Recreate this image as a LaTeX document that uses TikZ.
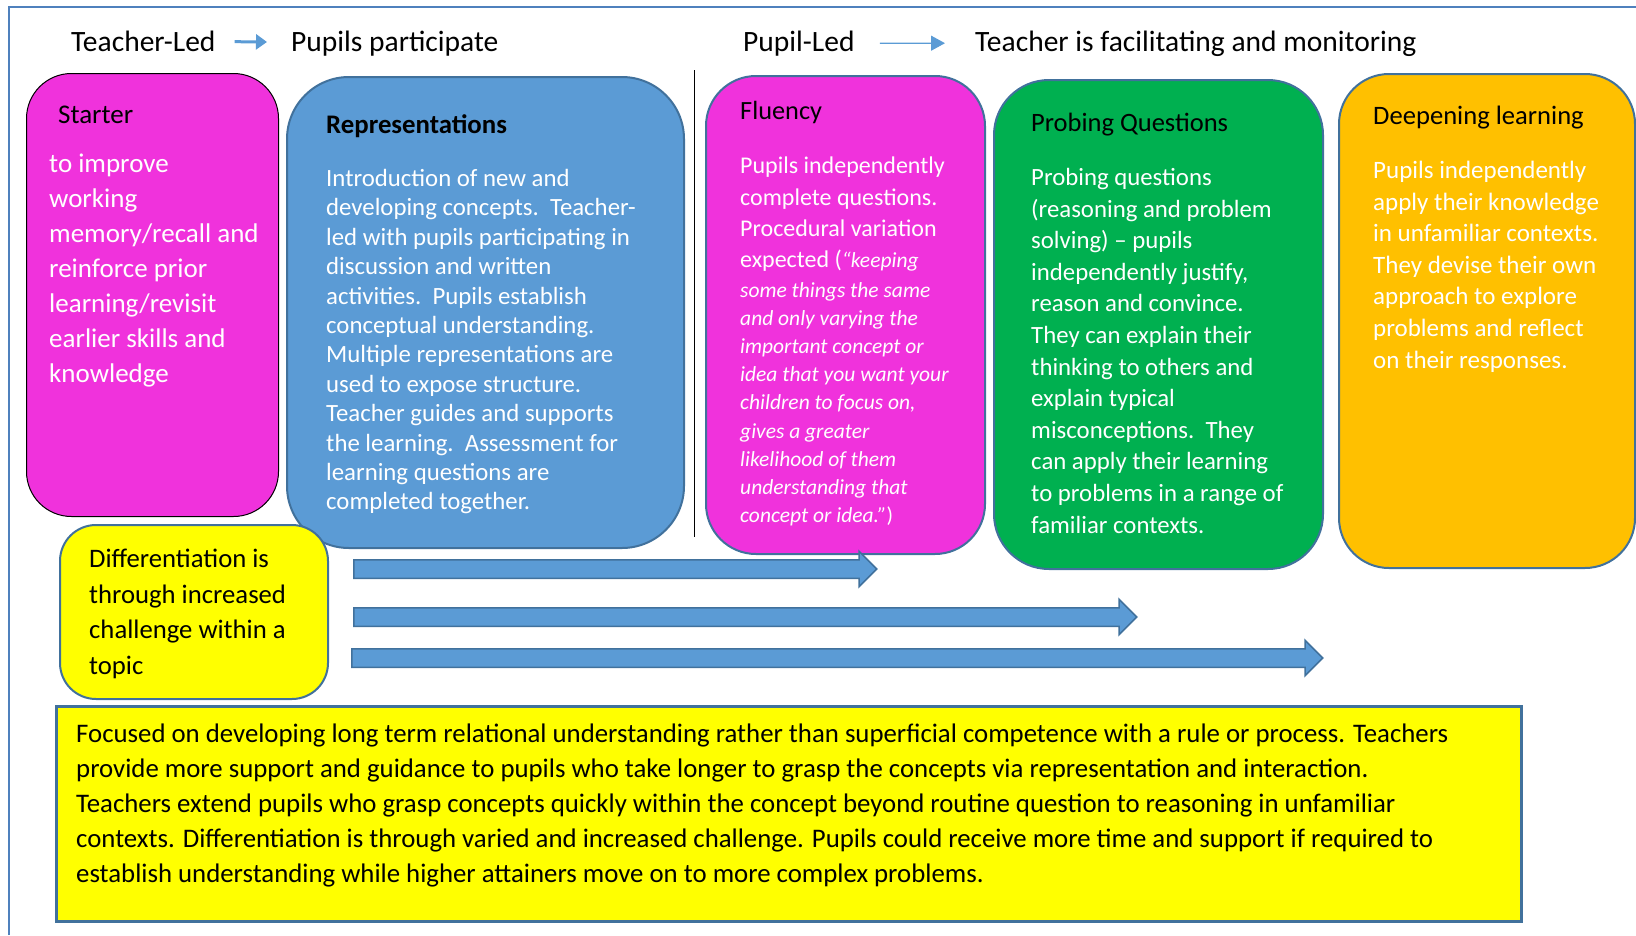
\documentclass[tikz,border=0pt]{standalone}
\usepackage{fontspec}
\setmainfont{Carlito}
\usetikzlibrary{arrows.meta,shapes.arrows}
\definecolor{pinkbox}{HTML}{F032DC}
\definecolor{bluebox}{HTML}{5B9BD5}
\definecolor{blueedge}{HTML}{41719C}
\definecolor{greenbox}{HTML}{00B050}
\definecolor{orangebox}{HTML}{FFC000}
\definecolor{yellowbox}{HTML}{FFFF00}
\definecolor{framecol}{HTML}{4F81BD}
\newcommand\setsz[2]{\fontsize{#1}{#2}\selectfont}

\begin{document}
\begin{tikzpicture}[x=1pt,y=-1pt, inner sep=0pt,
  card/.style={draw=blueedge, line width=2pt, anchor=north west},
  hdr/.style={anchor=base west, font=\setsz{29.5}{34}},
  ttl/.style={anchor=north west, text=black},
  txt/.style={anchor=north west, align=left, text=white},
  blockarrow/.style={single arrow, draw=blueedge, fill=bluebox, line width=1.5pt, anchor=tail,
    inner xsep=0pt, inner ysep=8.5pt, single arrow head extend=8.5pt},
  shortarrow/.style={draw=bluebox, line width=3pt, -{Triangle[length=11pt,width=15pt]}},
  longarrow/.style={draw=bluebox, line width=1.3pt, -{Triangle[length=14pt,width=15pt]}}]
\useasboundingbox (0,0) rectangle (1636,935);
\draw[framecol, line width=2pt] (9,935) -- (9,7) -- (1636,7);

% header line
\node (tled) [hdr] at (71,51) {Teacher-Led};
\node (ppart) [hdr] at (291,51) {Pupils participate};
\node (pled) [hdr] at (743,51) {Pupil-Led};
\node (tfac) [hdr] at (975,51) {Teacher is facilitating and monitoring};
\draw[shortarrow, shorten <=19pt, shorten >=24pt] (tled) -- (ppart);
\draw[longarrow, shorten <=25pt, shorten >=30pt] (pled) -- (tfac);

\draw (694,70) -- (694,537);

% the five stages
\node (starter) [card, draw=black, line width=1pt, fill=pinkbox, rounded corners=45pt,
  minimum width=252pt, minimum height=443pt] at (26,73) {};
\node (repr) [card, fill=bluebox, rounded corners=62pt,
  minimum width=397pt, minimum height=471pt] at (286,76) {};
\node (flu) [card, fill=pinkbox, rounded corners=50pt,
  minimum width=279pt, minimum height=478pt] at (705,75) {};
\node (prob) [card, fill=greenbox, rounded corners=55pt,
  minimum width=329pt, minimum height=489pt] at (993,79) {};
\node (deep) [card, fill=orangebox, rounded corners=50pt,
  minimum width=296pt, minimum height=494pt] at (1338,73) {};

\node (starterT) [ttl, font=\setsz{27}{32}] at (58,106) {Starter};
\node (starterB) [txt, font=\setsz{27}{35}] at (49,154) {to improve\\working\\memory/recall and\\reinforce prior\\learning/revisit\\earlier skills and\\knowledge};

\node (reprT) [ttl, font=\setsz{26.8}{32}\bfseries] at (326,114) {Representations};
\node (reprB) [txt, font=\setsz{24.8}{29.4}] at (326,169) {Introduction of new and\\developing concepts.\ \ Teacher-\\led with pupils participating in\\discussion and written\\activities.\ \ Pupils establish\\conceptual understanding.\\Multiple representations are\\used to expose structure.\\Teacher guides and supports\\the learning.\ \ Assessment for\\learning questions are\\completed together.};

\node (fluT) [ttl, font=\setsz{26.3}{31}] at (740,101) {Fluency};
\node (fluB) [txt, font=\setsz{24}{31.3}] at (740,157) {Pupils independently\\complete questions.\\Procedural variation\\expected (\textit{\setsz{21.5}{28.2}“keeping}};
\node (fluI) [txt, font=\setsz{21.5}{28.2}\itshape] at (740,282) {some things the same\\and only varying the\\important concept or\\idea that you want your\\children to focus on,\\gives a greater\\likelihood of them\\understanding that\\concept or idea.”\upshape)};

\node (probT) [ttl, font=\setsz{26.5}{31}] at (1031,113) {Probing Questions};
\node (probB) [txt, font=\setsz{24.8}{31.6}] at (1031,168) {Probing questions\\(reasoning and problem\\solving) – pupils\\independently justify,\\reason and convince.\\They can explain their\\thinking to others and\\explain typical\\misconceptions.\ \ They\\can apply their learning\\to problems in a range of\\familiar contexts.};

\node (deepT) [ttl, font=\setsz{26.6}{31}] at (1373,106) {Deepening learning};
\node (deepB) [txt, font=\setsz{25}{31.6}] at (1373,161) {Pupils independently\\apply their knowledge\\in unfamiliar contexts.\\They devise their own\\approach to explore\\problems and reflect\\on their responses.};

% differentiation
\node (diff) [card, fill=yellowbox, rounded corners=36pt,
  minimum width=268pt, minimum height=174pt] at (59,524) {};
\node (diffT) [txt, text=black, font=\setsz{26.7}{35.5}] at (89,549) {Differentiation is\\through increased\\challenge within a\\topic};

\node (arrA) [blockarrow, minimum height=523pt] at (353,569) {};
\node (arrB) [blockarrow, minimum height=783pt] at (353,617) {};
\node (arrC) [blockarrow, minimum height=971pt] at (351,658) {};

% summary
\node (summ) [card, fill=yellowbox, line width=2.5pt,
  minimum width=1465pt, minimum height=215pt] at (55,705) {};
\node (summT) [txt, text=black, font=\setsz{26.8}{35}] at (76,724) {Focused on developing long term relational understanding rather than superficial competence with a rule or process. Teachers\\provide more support and guidance to pupils who take longer to grasp the concepts via representation and interaction.\\Teachers extend pupils who grasp concepts quickly within the concept beyond routine question to reasoning in unfamiliar\\contexts. Differentiation is through varied and increased challenge. Pupils could receive more time and support if required to\\establish understanding while higher attainers move on to more complex problems.};
\end{tikzpicture}
\end{document}
